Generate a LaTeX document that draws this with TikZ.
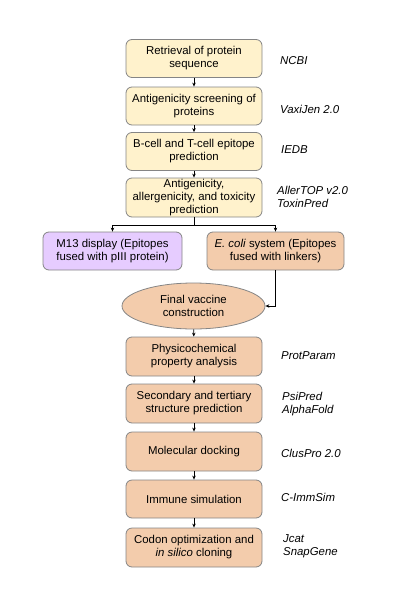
\documentclass[tikz,border=0pt]{standalone}
\usepackage{fontspec}
\setmainfont{Liberation Sans}
\usetikzlibrary{shapes.geometric,arrows.meta}
\definecolor{boxyellow}{HTML}{FFF2CC}
\definecolor{boxorange}{HTML}{F3CCAC}
\definecolor{boxpurple}{HTML}{E6CCFF}
\definecolor{boxline}{HTML}{858585}
\tikzset{
  stepbox/.style={draw=boxline, line width=0.8pt, rounded corners=6pt, minimum width=136pt, minimum height=38pt, inner sep=0pt, align=center, font=\fontsize{11.4}{13}\selectfont},
  ybox/.style={stepbox, fill=boxyellow},
  obox/.style={stepbox, fill=boxorange},
  pbox/.style={stepbox, fill=boxpurple},
  tool/.style={anchor=west, inner sep=0pt, align=left, font=\fontsize{11.4}{13}\selectfont\itshape},
  arr/.style={line width=0.9pt, -{Stealth[length=4pt,width=3.5pt]}}
}
\begin{document}
\begin{tikzpicture}[x=1pt,y=-1pt]
\useasboundingbox (0,0) rectangle (412,600);
\node[ybox] (b1) at (194,58.5) {Retrieval of protein\\sequence};
\node[ybox] (b2) at (194,106) {Antigenicity screening of\\proteins};
\node[ybox] (b3) at (194,151.5) {B-cell and T-cell epitope\\prediction};
\node[ybox, minimum height=39pt] (b4) at (194,197.5) {Antigenicity,\\allergenicity, and toxicity\\prediction};
\node[pbox, minimum width=139pt] (m13) at (112.5,251) {M13 display (Epitopes\\fused with pIII protein)};
\node[obox, minimum width=137pt] (ecoli) at (275.5,251) {\textit{E. coli} system (Epitopes\\fused with linkers)};
\node[ellipse, draw=boxline, line width=0.8pt, fill=boxorange, minimum width=143pt, minimum height=46pt, inner sep=0pt, align=center, font=\fontsize{11.4}{13}\selectfont] (ell) at (193.5,306) {Final vaccine\\construction};
\node[obox, minimum height=39pt] (p1) at (194,356.5) {Physicochemical\\property analysis};
\node[obox, minimum height=39pt] (p2) at (194,403.5) {Secondary and tertiary\\structure prediction};
\node[obox, minimum height=39pt] (p3) at (194,451.5) {Molecular docking};
\node[obox] (p4) at (194,499) {Immune simulation};
\node[obox, minimum height=39pt] (p5) at (194,547.5) {Codon optimization and\\\textit{in silico} cloning};
\node[tool] (t1) at (280,61) {NCBI};
\node[tool] (t2) at (280,109) {VaxiJen 2.0};
\node[tool] (t3) at (281,150) {IEDB};
\node[tool] (t4) at (277,196.5) {AllerTOP v2.0\\ToxinPred};
\node[tool] (t5) at (281,356) {ProtParam};
\node[tool] (t6) at (282,404.5) {PsiPred\\AlphaFold};
\node[tool] (t7) at (281,453) {ClusPro 2.0};
\node[tool] (t8) at (281,497) {C-ImmSim};
\node[tool] (t9) at (283,546.5) {Jcat\\SnapGene};
\draw[arr] (b1) -- (b2);
\draw[arr] (b2) -- (b3);
\draw[arr] (b3) -- (b4);
\draw[arr] (b4.south) -- ++(0,8) -| (m13.north);
\draw[arr] (b4.south) -- ++(0,8) -| (ecoli.north);
\draw[arr] (ecoli.south) |- (ell.east);
\draw[arr] (ell) -- (p1);
\draw[arr] (p1) -- (p2);
\draw[arr] (p2) -- (p3);
\draw[arr] (p3) -- (p4);
\draw[arr] (p4) -- (p5);
\end{tikzpicture}
\end{document}
